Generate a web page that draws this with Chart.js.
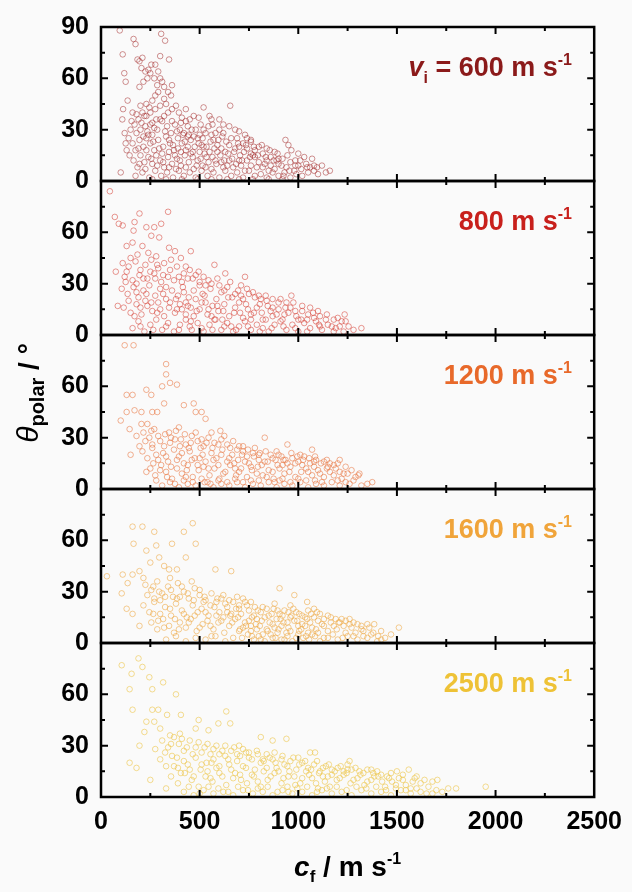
<!DOCTYPE html>
<html>
<head>
<meta charset="utf-8">
<script src="https://cdn.jsdelivr.net/npm/chart.js@4.4.1/dist/chart.umd.min.js"></script>
<style>
  html, body { margin: 0; padding: 0; background: #fafafa; }
  canvas { display: block; }
</style>
</head>
<body>
<canvas id="chart" width="632" height="892"></canvas>
<script>
// impact speeds, one panel each (top to bottom)
const speeds = [600, 800, 1200, 1600, 2500];
const xTicks = [0, 500, 1000, 1500, 2000, 2500];
const yTicks = [0, 30, 60, 90];

// [c_f (m/s), theta_polar (deg)]
const pts600 = [
  [95,88],[110,74],[118,63],[125,58],[135,47],[112,42],[108,36],[120,28],[100,5],
  [165,83],[175,80],[185,71],[195,70],[210,72],[205,66],[225,64],[240,65],[250,63],[255,68],[235,60],[215,58],[195,55],
  [300,73],[305,86],[325,82],[345,71],[275,68],[290,64],[270,60],[285,56],[300,60],[310,58],[320,55],[340,52],[360,56],[290,52],[275,50],[320,48],[355,50],
  [260,47],[245,43],[230,45],[210,40],[200,44],[180,39],[160,40],[155,35],[170,33],[150,30],[140,25],[130,18],[145,15],[125,22],
  [190,36],[220,38],[250,40],[275,42],[300,44],[330,45],[360,42],[380,44],[395,40],[410,37],[430,35],[450,36],[470,38],[495,37],[520,43],[460,30],[655,44],
  [180,28],[200,30],[225,32],[240,27],[260,34],[285,30],[310,35],[335,32],[355,28],[375,33],[400,30],[420,28],[440,32],[480,30],[500,27],[520,30],[545,32],[565,33],[580,28],
  [160,22],[175,18],[195,24],[215,20],[230,25],[250,22],[270,18],[290,24],[315,20],[330,26],[350,22],[370,18],[390,25],[410,22],[430,18],[455,24],[475,20],[495,22],[515,25],[535,20],[555,23],[575,19],[595,24],[615,26],[635,23],[650,21],
  [165,12],[185,8],[200,15],[220,11],[240,14],[260,10],[280,15],[300,12],[320,8],[340,14],[360,10],[385,13],[405,9],[425,15],[445,11],[465,14],[485,9],[505,13],[525,16],[545,11],[565,14],[585,10],[605,15],[625,12],[645,16],[665,13],[685,10],[705,15],[725,17],
  [175,3],[210,5],[245,2],[275,6],[305,3],[335,5],[365,2],[395,6],[420,3],[450,5],[480,2],[510,6],[540,3],[570,5],[600,2],[630,6],[660,3],[690,5],[720,2],[750,6],[780,3],
  [600,30],[620,28],[650,32],[690,25],[700,20],[720,22],[740,19],[760,23],[780,18],[800,20],[820,16],[840,19],[860,14],[880,17],[900,13],[700,29],[730,27],[760,24],
  [740,12],[760,9],[780,14],[800,11],[820,8],[840,12],[860,9],[880,7],[900,10],[920,13],[940,8],[960,11],[980,6],[1000,9],
  [810,4],[840,2],[870,5],[900,3],[930,5],[960,2],[990,4],[1020,3],[1050,5],[1080,6],[1100,4],[1140,5],[1160,6],
  [1010,12],[1040,10],[1060,8],[1000,16],[1030,14],[1070,13],[935,24],[950,21],[1080,9],[1120,9],
  [230,18],[260,27],[320,38],[345,17],[380,7],[415,27],[440,20],[470,7],[500,17],[530,8],[560,27],[590,17],[620,8],[650,12],[680,19],
  [710,9],[740,25],[770,15],[550,38],[600,36],[430,42],[390,19],[310,16],[280,36],[215,26],[190,19],[250,33],[360,35],[470,26],[520,20],
  [205,34],[235,29],[265,23],[295,19],[325,29],[345,24],[365,21],[385,29],[405,17],[425,23],[445,27],[465,17],[490,25],[510,21],[530,28],
  [550,17],[570,24],[590,21],[610,19],[630,17],[660,25],[675,17],[695,22],[715,12],[735,21],[755,14],[775,20],[795,15],[815,21],[835,14],
  [855,18],[875,12],[895,16],[915,9],[945,15],[965,18],[985,12],[1015,7],[1045,8],[1095,8],
  [195,10],[225,7],[255,13],[285,9],[315,11],[345,8],[375,15],[400,12],[430,8],[455,16],[490,12],[515,9],[535,14],[560,7],[580,12],
  [610,11],[640,9],[670,8],[700,12],[730,6],[760,16],[790,8],[830,10],[850,6],[890,12],[925,3],[955,6],[985,9],
  [230,38],[270,31],[300,36],[340,40],[405,34],[440,26],[505,33],[560,36],[620,33],[680,30],
  [260,1],[330,1],[410,1],[490,1],[560,1],[640,1],[700,1],[770,1],[850,1],[920,1]
];

const pts800 = [
  [45,84],[70,69],[90,65],[110,64],[195,71],[340,72],[170,66],[230,63],[270,63],[305,65],[255,58],[295,57],[165,61],[130,52],[160,54],
  [210,52],[345,51],[375,49],[455,49],[405,45],[75,37],[125,31],[85,17],[575,41],[630,36],[730,34],[965,23],[910,21],[1235,12],[1320,4],
  [1255,5],[1145,12],[240,48],[185,47],[150,45],[280,46],
  [110,42],[140,40],[175,43],[200,38],[225,41],[255,44],[290,39],[320,42],[350,38],[385,40],[420,36],[450,38],[480,35],[520,34],
  [120,34],[160,32],[195,35],[235,33],[270,36],[305,31],[340,34],[370,32],[410,31],[440,33],[500,31],[545,32],
  [105,27],[135,24],[165,28],[190,22],[215,26],[245,29],[275,23],[300,27],[330,21],[360,26],[390,23],[415,28],[445,22],[470,26],[500,29],
  [525,23],[555,27],[585,21],[610,25],[640,28],[665,22],[695,26],[720,21],[750,24],[780,22],[810,21],[840,20],[600,29],[180,25],[420,25],
  [115,16],[150,13],[180,18],[205,12],[235,17],[260,14],[290,19],[320,11],[345,16],[375,13],[400,18],[430,12],[455,16],[485,14],[510,19],
  [540,12],[565,17],[595,14],[625,18],[650,11],[680,16],[705,13],[735,18],[760,12],[790,16],[815,13],[845,17],[870,11],[900,15],[930,12],
  [960,16],[990,11],[1020,14],[1050,12],[1080,10],[1110,11],
  [160,4],[190,8],[220,2],[250,6],[280,9],[310,3],[340,7],[370,2],[400,6],[430,9],[460,3],[490,7],[520,2],[550,6],[580,9],[610,3],[640,7],
  [670,2],[700,5],[730,8],[760,3],[790,6],[820,9],[850,2],[880,6],[910,8],[940,3],[970,6],[1000,2],[1030,7],[1060,4],[1090,8],[1120,3],
  [1150,6],[1180,2],[1210,5],[1240,8],[1280,3],
  [275,33],[330,28],[385,15],[455,8],[515,24],[575,9],[620,14],[700,19],[760,9],[870,16],[940,19],[1000,9],[225,20],[300,15],[430,19],
  [480,21],[545,15],[660,5],[720,10],[820,4],
  [130,37],[180,30],[215,33],[250,37],[285,41],[315,35],[355,44],[395,34],[430,40],[465,33],[495,37],[530,29],[560,30],[590,33],[625,26],
  [655,31],[680,24],[710,29],[740,27],[770,25],[800,23],[835,23],[870,21],[900,19],[935,16],[975,19],[1020,17],[1060,16],[1100,14],[1140,9],
  [1180,9],[1220,8],
  [140,20],[170,11],[200,16],[230,24],[255,19],[285,13],[315,24],[350,19],[380,21],[410,15],[440,17],[470,11],[500,15],[530,19],[560,11],
  [590,17],[615,9],[645,22],[675,13],[710,23],[745,15],[775,13],[805,18],[835,9],[860,14],[890,12],[920,9],[950,13],[985,14],[1015,9],
  [1045,9],[1075,13],[1105,6],[1170,5],[1200,10],
  [200,5],[265,3],[330,5],[395,3],[450,5],[510,4],[565,3],[625,5],[685,3],[745,5],[805,2],[865,4],[925,5],[985,4],[1045,2],[1110,5],
  [1190,4],[1230,2]
];

const pts1200 = [
  [120,84],[165,84],[330,73],[330,67],[310,60],[350,62],[385,61],[130,55],[160,55],[255,55],[230,58],[130,45],[170,46],[205,45],[260,45],
  [285,45],[320,50],[420,49],[470,50],[480,45],[510,45],[530,41],[605,34],[830,30],[945,26],[1070,23],[1210,17],[1305,8],[1375,4],[1230,9],
  [230,10],[145,35],[180,31],[195,25],[205,38],[235,38],[100,40],[150,20],
  [215,33],[245,30],[270,35],[300,28],[325,32],[350,27],[380,34],[405,29],[430,26],[460,31],[490,28],[520,25],[545,30],[575,27],[610,29],
  [640,26],[670,28],[700,25],[260,26],[395,36],[560,33],
  [210,22],[235,18],[260,24],[290,17],[315,21],[340,16],[370,23],[395,19],[420,15],[450,22],[475,18],[505,24],[530,16],[560,21],[585,18],
  [615,23],[640,16],[665,20],[695,17],[720,22],[750,15],[775,19],[805,21],[830,16],[860,20],[885,17],[915,19],[945,15],[970,18],[1000,16],
  [1030,19],[1060,15],[1090,17],[1130,16],[1160,15],[720,25],[780,24],[890,22],
  [250,12],[275,8],[305,14],[330,10],[360,6],[385,12],[410,9],[440,14],[465,7],[495,11],[520,13],[550,8],[575,12],[600,6],[630,10],
  [655,14],[685,8],[710,12],[740,7],[765,11],[795,13],[820,8],[850,11],[875,6],[905,12],[930,9],[960,13],[985,7],[1015,10],[1040,12],
  [1070,8],[1100,11],[1130,7],[1160,10],[1190,12],[1220,6],[1250,9],[1290,7],
  [310,2],[350,4],[395,1],[440,3],[480,2],[525,4],[570,1],[610,3],[650,2],[690,4],[730,1],[770,3],[810,2],[850,4],[890,1],[930,3],
  [970,2],[1010,4],[1050,1],[1090,3],[1130,2],[1170,4],[1210,2],[1260,3],[1320,2],
  [280,20],[355,30],[445,24],[500,18],[610,20],[680,12],[740,19],[800,17],[920,14],[1010,20],[1080,13],[1150,13],[430,7],[540,4],[905,5],
  [225,28],[255,34],[290,31],[320,25],[345,33],[375,29],[400,25],[425,32],[455,27],[480,33],[510,29],[535,27],[565,24],[595,26],[625,31],
  [655,24],[690,23],[715,20],[745,23],[770,21],[800,20],[835,22],[870,18],[900,20],[935,17],[965,21],[995,19],[1025,17],[1055,18],[1085,19],
  [1115,15],[1145,17],[1180,14],[1200,15],[1240,13],[1270,11],[1310,9],
  [265,15],[300,11],[330,19],[355,13],[385,17],[410,21],[435,11],[460,17],[490,14],[515,20],[545,12],[570,17],[595,14],[620,9],[650,18],
  [675,15],[700,10],[730,16],[760,13],[790,9],[815,14],[845,16],[870,10],[895,14],[925,17],[955,10],[985,15],[1020,14],[1050,10],[1080,16],
  [1110,9],[1145,12],[1180,8],[1210,10],[1240,4],[1280,5],
  [280,5],[335,7],[375,3],[420,5],[465,4],[510,6],[555,3],[595,5],[640,4],[680,6],[720,4],[760,5],[800,5],[840,7],[880,4],[920,6],
  [960,4],[1000,6],[1040,5],[1085,5],[1120,4],[1200,5],[1350,3]
];

const pts1600 = [
  [160,68],[210,68],[465,70],[420,65],[270,65],[165,58],[360,58],[480,58],[230,54],[280,57],[295,50],[430,50],[30,39],[110,40],[160,40],
  [105,29],[135,35],[195,42],[345,43],[385,43],[580,43],[660,42],[130,20],[160,17],[195,10],[905,32],[980,28],[1045,24],[1260,14],[1385,11],
  [1510,9],[1405,4],[250,47],[320,45],[215,38],
  [225,34],[255,31],[285,36],[310,29],[340,33],[365,27],[390,35],[420,30],[445,26],[475,32],[500,28],[530,25],[560,29],[590,26],[620,28],
  [650,25],[690,27],[720,26],[270,26],[350,38],[460,36],
  [215,22],[245,18],[270,24],[300,17],[325,21],[355,16],[380,23],[410,19],[435,15],[465,22],[490,18],[520,24],[545,16],[575,21],[600,18],
  [630,23],[655,16],[685,20],[710,17],[740,22],[765,15],[795,19],[820,21],[850,16],[875,20],[905,17],[930,19],[960,15],[990,18],[1020,16],
  [1050,19],[1080,15],[1110,17],[1150,16],[1190,14],[760,24],[880,23],
  [255,12],[285,8],[315,14],[345,10],[370,6],[400,12],[430,9],[455,14],[485,7],[515,11],[540,13],[570,8],[595,12],[625,6],[650,10],
  [680,14],[705,8],[730,12],[760,7],[785,11],[815,13],[840,8],[870,11],[895,6],[925,12],[950,9],[980,13],[1005,7],[1035,10],[1060,12],
  [1090,8],[1120,11],[1150,7],[1180,10],[1210,12],[1240,6],[1270,9],[1300,11],[1330,7],[1360,9],
  [715,3],[745,5],[775,2],[800,4],[830,1],[860,5],[885,3],[915,2],[945,4],[970,1],[1000,5],[1025,3],[1055,2],[1085,4],[1110,1],
  [760,10],[820,5],[880,9],[940,6],[1000,10],[1050,6],[790,14],[910,14],
  [330,2],[380,4],[430,1],[480,3],[530,2],[580,4],[630,1],[670,3],[1150,3],[1200,2],[1250,4],[1300,2],[1350,3],[1400,1],[1440,3],
  [300,25],[400,27],[510,20],[560,4],[620,15],[660,17],[700,22],[960,22],[1080,20],[1220,14],
  [235,28],[265,33],[295,30],[325,27],[355,31],[385,26],[410,33],[440,29],[470,25],[500,31],[525,27],[555,22],[585,24],[610,26],[640,21],
  [670,24],[700,20],[730,24],[750,19],[780,21],[810,18],[840,20],[865,17],[895,19],[920,16],[950,18],[975,20],[1005,17],[1035,15],[1065,17],
  [1095,18],[1130,14],[1165,15],[1205,12],[1240,13],[1280,12],[1320,10],[1350,11],[1420,7],[1470,5],
  [265,17],[290,13],[320,9],[350,20],[375,14],[395,8],[420,17],[445,12],[475,16],[500,9],[530,18],[555,10],[585,16],[610,13],[640,18],
  [665,12],[695,15],[720,9],[750,13],[775,16],[805,10],[830,15],[855,12],[890,14],[915,10],[945,12],[965,16],[995,13],[1020,11],[1045,14],
  [1070,9],[1100,13],[1130,10],[1165,12],[1195,8],[1230,10],[1260,11],[1290,6],[1320,8],[1380,6],
  [700,7],[735,10],[765,4],[790,8],[810,2],[845,7],[870,3],[900,8],[930,2],[960,7],[990,3],[1015,8],[1040,4],[1070,5],[1100,6],[1130,3],
  [1175,5],[1225,3],[1280,4],[1330,4],[1370,5],[1420,2]
];

const pts2500 = [
  [105,77],[190,81],[210,76],[155,72],[245,70],[145,63],[260,63],[315,67],[380,60],[160,51],[260,51],[290,51],[335,48],[405,48],[495,45],
  [635,50],[230,44],[270,44],[655,43],[595,43],[480,40],[545,39],[195,30],[145,20],[180,17],[940,34],[810,35],[870,33],[1060,26],[1085,26],
  [1260,21],[1560,16],[1705,10],[1760,5],[1950,6],[1800,5],[300,40],[350,36],[220,38],[250,10],[330,5],
  [310,33],[340,29],[370,35],[395,31],[420,27],[450,33],[480,29],[510,26],[540,31],[570,28],[600,25],[630,30],[660,27],[690,25],[720,28],
  [750,26],[790,27],[840,25],[880,26],[400,37],[275,28],
  [300,22],[330,18],[360,24],[390,17],[420,21],[450,16],[480,23],[510,19],[540,15],[570,22],[600,18],[630,24],[660,16],[690,21],[720,18],
  [750,23],[780,16],[810,20],[840,17],[870,22],[900,15],[930,19],[960,21],[990,16],[1020,20],[1050,17],[1080,19],[1110,15],[1140,18],
  [1170,16],[1200,17],[1230,15],[1270,16],[1310,15],[1350,16],[1400,15],[920,24],[1000,23],
  [355,12],[390,8],[425,14],[460,10],[495,6],[530,12],[565,9],[600,14],[635,7],[670,11],[705,13],[740,8],[775,12],[810,6],[845,10],
  [880,14],[915,8],[950,12],[985,7],[1020,11],[1055,13],[1090,8],[1125,12],[1160,6],[1195,10],[1230,13],[1265,8],[1300,11],[1335,7],
  [1370,10],[1405,12],[1440,6],[1475,9],[1510,11],[1545,7],[1580,9],[1620,8],[1660,6],
  [420,3],[470,1],[520,4],[570,2],[620,3],[670,1],[720,4],[770,2],[820,3],[870,1],[920,4],[970,2],[1020,3],[1070,1],[1120,4],[1170,2],
  [1220,3],[1270,1],[1320,4],[1370,2],[1420,3],[1470,1],[1520,4],[1570,2],[1620,3],[1680,2],[1730,3],
  [560,20],[700,30],[820,22],[1150,12],[1250,19],[1380,14],[1450,12],[1500,15],[950,3],[1100,5],
  [325,26],[355,31],[385,23],[410,34],[435,29],[465,25],[495,32],[525,29],[555,25],[585,30],[615,27],[645,22],[675,29],[705,24],[735,26],
  [765,22],[795,25],[825,21],[855,23],[885,20],[915,22],[945,18],[975,23],[1005,19],[1035,21],[1065,16],[1095,21],[1125,17],[1155,19],
  [1185,15],[1215,18],[1250,16],[1290,17],[1330,14],[1370,16],[1420,13],[1470,14],[1530,13],[1590,11],[1640,10],
  [370,18],[405,14],[440,19],[470,12],[505,16],[535,20],[555,11],[585,17],[615,12],[650,19],[680,14],[710,10],[735,17],[765,13],[795,9],
  [825,15],[860,12],[890,17],[925,11],[955,15],[980,12],[1010,8],[1040,15],[1070,11],[1105,14],[1135,9],[1170,13],[1210,11],[1245,14],
  [1280,10],[1315,13],[1350,9],[1385,12],[1425,9],[1460,11],[1495,7],[1530,10],[1570,5],[1600,12],[1680,9],
  [445,6],[500,2],[545,6],[595,5],[645,3],[695,6],[745,4],[795,5],[845,6],[895,3],[945,6],[995,5],[1045,6],[1095,3],[1145,5],[1195,6],
  [1245,4],[1295,6],[1345,5],[1395,6],[1445,4],[1495,5],[1545,4],[1600,5],[1650,2],[1700,4]
];

const panelPoints = [pts600, pts800, pts1200, pts1600, pts2500];
const markerColors = ['rgba(168,52,52,0.6)', 'rgba(214,64,52,0.6)', 'rgba(232,122,70,0.65)', 'rgba(238,170,70,0.65)', 'rgba(238,200,80,0.7)'];
const labelColors = ['#8b1a1a', '#c8201c', '#e8692a', '#f0a43a', '#eec236'];

const FONT = "'Liberation Sans', Arial, sans-serif";

const scales = {
  x: {
    type: 'linear', min: xTicks[0], max: xTicks[xTicks.length - 1],
    ticks: {
      stepSize: 500, color: '#000', padding: 10,
      font: { family: FONT, size: 25, weight: 'bold' },
      callback: v => String(v)
    },
    grid: { display: false, drawTicks: false },
    border: { display: false },
    afterFit: s => { s.height = 95; }
  }
};
// y scales stacked into 5 panels; the stack fills bottom-up, so add the lowest panel first
for (let i = speeds.length - 1; i >= 0; i--) {
  scales['y' + i] = {
    type: 'linear', min: yTicks[0], max: yTicks[yTicks.length - 1],
    position: 'left', stack: 'panels', stackWeight: 1,
    ticks: {
      stepSize: 30, autoSkip: false, color: '#000', padding: 12,
      font: { family: FONT, size: 25, weight: 'bold' },
      callback: v => (v === 90 && i > 0) ? '' : String(v)
    },
    grid: { display: false, drawTicks: false },
    border: { display: false },
    afterFit: s => { s.width = 101; }
  };
}

// draws a run of text pieces [text, font, dy]
function richText(ctx, parts, x, y, align) {
  let w = 0;
  parts.forEach(p => { ctx.font = p[1]; w += ctx.measureText(p[0]).width; });
  let cx = align === 'right' ? x - w : align === 'center' ? x - w / 2 : x;
  parts.forEach(p => {
    ctx.font = p[1];
    ctx.fillText(p[0], cx, y + (p[2] || 0));
    cx += ctx.measureText(p[0]).width;
  });
}

const framePlugin = {
  id: 'frames',
  afterDatasetsDraw(chart) {
    const ctx = chart.ctx, area = chart.chartArea, xs = chart.scales.x;
    ctx.save();
    ctx.strokeStyle = '#000';
    speeds.forEach((sp, i) => {
      const ys = chart.scales['y' + i];
      const top = ys.getPixelForValue(90), bot = ys.getPixelForValue(0);
      ctx.lineWidth = 2.5;
      ctx.strokeRect(area.left, top, area.right - area.left, bot - top);
      ctx.lineWidth = 2;
      ctx.beginPath();
      [15, 30, 45, 60, 75].forEach(v => {
        const len = v % 30 === 0 ? 7 : 4;
        const py = ys.getPixelForValue(v);
        ctx.moveTo(area.left, py); ctx.lineTo(area.left + len, py);
        ctx.moveTo(area.right, py); ctx.lineTo(area.right - len, py);
      });
      for (let v = 250; v < 2500; v += 250) {
        const len = v % 500 === 0 ? 7 : 4;
        const px = xs.getPixelForValue(v);
        ctx.moveTo(px, top); ctx.lineTo(px, top + len);
        ctx.moveTo(px, bot); ctx.lineTo(px, bot - len);
      }
      ctx.stroke();
    });
    ctx.restore();
  },
  afterDraw(chart) {
    const ctx = chart.ctx, area = chart.chartArea;
    ctx.save();
    ctx.textBaseline = 'alphabetic';
    const big = 'bold 27px ' + FONT, sup = 'bold 16px ' + FONT;
    speeds.forEach((sp, i) => {
      const ys = chart.scales['y' + i];
      const by = ys.getPixelForValue(90) + 49;
      ctx.fillStyle = labelColors[i];
      const parts = i === 0
        ? [['v', 'italic bold 27px ' + FONT], ['i', sup, 7], [' = ' + sp + ' m s', big], ['-1', sup, -11]]
        : [[sp + ' m s', big], ['-1', sup, -11]];
      richText(ctx, parts, 572, by, 'right');
    });
    ctx.fillStyle = '#000';
    // x title
    richText(ctx, [['c', 'italic bold 28px ' + FONT], ['f', 'bold 17px ' + FONT, 6], [' / m s', 'bold 28px ' + FONT], ['-1', sup, -12]],
      (area.left + area.right) / 2, 876, 'center');
    // y title
    ctx.translate(38, 393);
    ctx.rotate(-Math.PI / 2);
    richText(ctx, [['θ', 'italic 30px ' + FONT], ['polar', 'bold 20px ' + FONT, 6], [' / °', 'bold 28px ' + FONT]], 0, 0, 'center');
    ctx.restore();
  }
};

const bgPlugin = {
  id: 'bg',
  beforeDraw(chart) {
    const ctx = chart.ctx;
    ctx.save();
    ctx.fillStyle = '#fafafa';
    ctx.fillRect(0, 0, chart.width, chart.height);
    ctx.restore();
  }
};

new Chart(document.getElementById('chart'), {
  type: 'scatter',
  data: {
    datasets: speeds.map((sp, i) => ({
      label: sp + ' m/s',
      yAxisID: 'y' + i,
      data: panelPoints[i].map(p => ({ x: p[0], y: p[1] })),
      pointStyle: 'circle',
      pointRadius: 2.8,
      pointBorderWidth: 0.9,
      borderColor: markerColors[i],
      backgroundColor: 'rgba(0,0,0,0)'
    }))
  },
  options: {
    responsive: false,
    animation: false,
    layout: { padding: { top: 24, right: 31, left: 0, bottom: 0 } },
    plugins: { legend: { display: false }, tooltip: { enabled: false } },
    scales: scales
  },
  plugins: [bgPlugin, framePlugin]
});
</script>
</body>
</html>
